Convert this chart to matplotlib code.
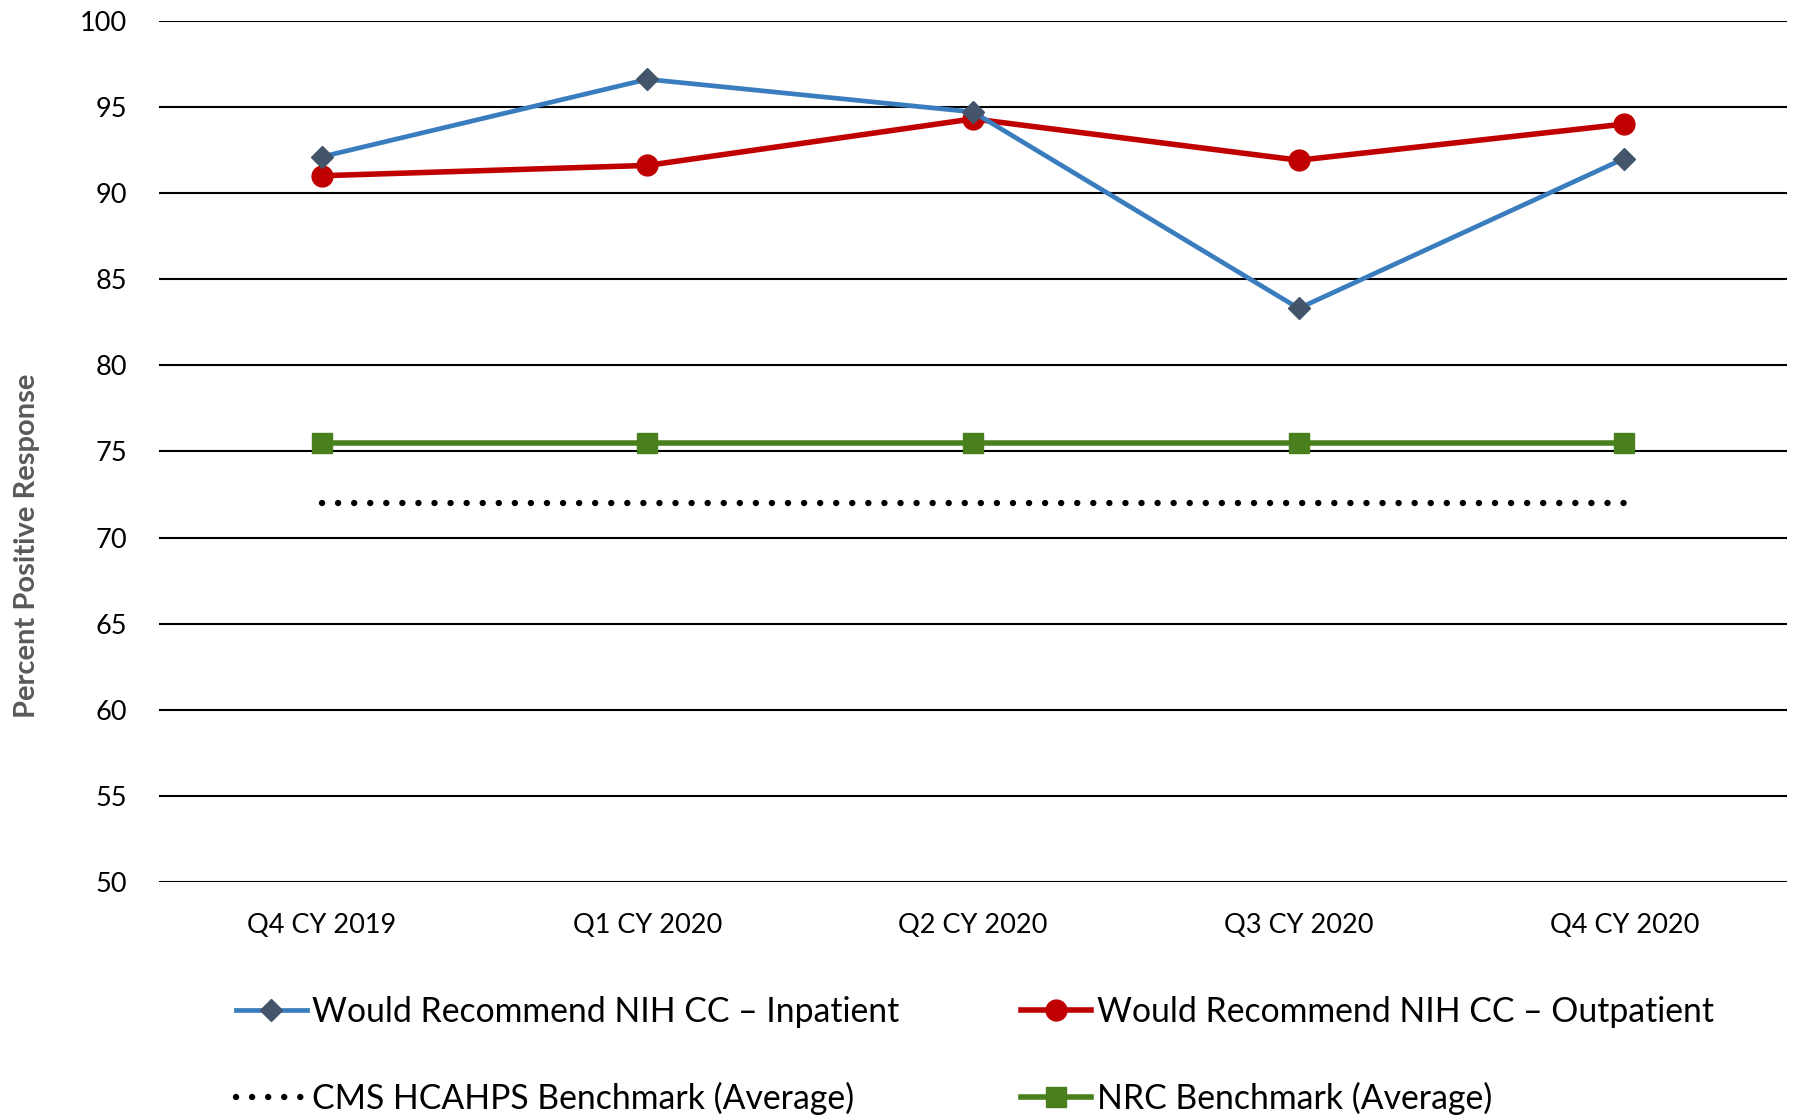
"""Would recommend NIH CC - percent positive response by quarter."""

import matplotlib
matplotlib.use('Agg')
import matplotlib.pyplot as plt

quarters = ['Q4 CY 2019', 'Q1 CY 2020', 'Q2 CY 2020', 'Q3 CY 2020', 'Q4 CY 2020']
inpatient = [92.1, 96.6, 94.7, 83.3, 92.0]
outpatient = [91.0, 91.6, 94.3, 91.9, 94.0]
cms_benchmark = [72.0, 72.0, 72.0, 72.0, 72.0]
nrc_benchmark = [75.5, 75.5, 75.5, 75.5, 75.5]
y_ticks = [50, 55, 60, 65, 70, 75, 80, 85, 90, 95, 100]

plt.rcParams['font.family'] = ['Lato', 'DejaVu Sans']

fig = plt.figure(figsize=(18.01, 11.18), dpi=100)
ax = fig.add_axes([0.0883, 0.211, 0.904, 0.7705])

x = list(range(len(quarters)))

l1, = ax.plot(x, inpatient, color='#3a7dbf', lw=3.4, marker='D', ms=11,
              markerfacecolor='#44546a', markeredgecolor='#44546a',
              label='Would Recommend NIH CC \u2013 Inpatient', zorder=4)
l2, = ax.plot(x, outpatient, color='#c00000', lw=4.0, marker='o', ms=15,
              markerfacecolor='#c00000', markeredgecolor='#c00000',
              label='Would Recommend NIH CC \u2013 Outpatient', zorder=3)
l3, = ax.plot(x, cms_benchmark, color='black', lw=4.6, linestyle=(0, (0.01, 2.505)),
              dash_capstyle='round', label='CMS HCAHPS Benchmark (Average)', zorder=3)
l4, = ax.plot(x, nrc_benchmark, color='#4a7f1d', lw=4.0, marker='s', ms=14,
              markerfacecolor='#4a7f1d', markeredgecolor='#4a7f1d',
              label='NRC Benchmark (Average)', zorder=3)

ax.set_xlim(-0.5, len(quarters) - 0.5)
ax.set_ylim(50, 100)
ax.set_yticks(y_ticks)
ax.set_xticks(x)
ax.set_xticklabels(quarters)
ax.yaxis.grid(True, color='black', lw=1.5)
ax.set_axisbelow(True)
for s in ax.spines.values():
    s.set_visible(False)
ax.tick_params(axis='both', length=0, labelsize=19.5, colors='black')
ax.tick_params(axis='y', pad=23)
ax.tick_params(axis='x', pad=22)

ax.set_ylabel('Percent Positive Response', fontsize=21, fontweight='bold',
              color='#595959')
ax.yaxis.set_label_coords(-0.073, 0.39)

# row-major order for a 2-column legend
fig.legend(handles=[l1, l3, l2, l4], loc='upper left', bbox_to_anchor=(0.1235, 0.121),
           ncol=2, frameon=False, fontsize=24.3, handlelength=2.1, handletextpad=0.15,
           columnspacing=3.6, labelspacing=1.58, borderaxespad=0)

fig.savefig('out.png', dpi=100)
